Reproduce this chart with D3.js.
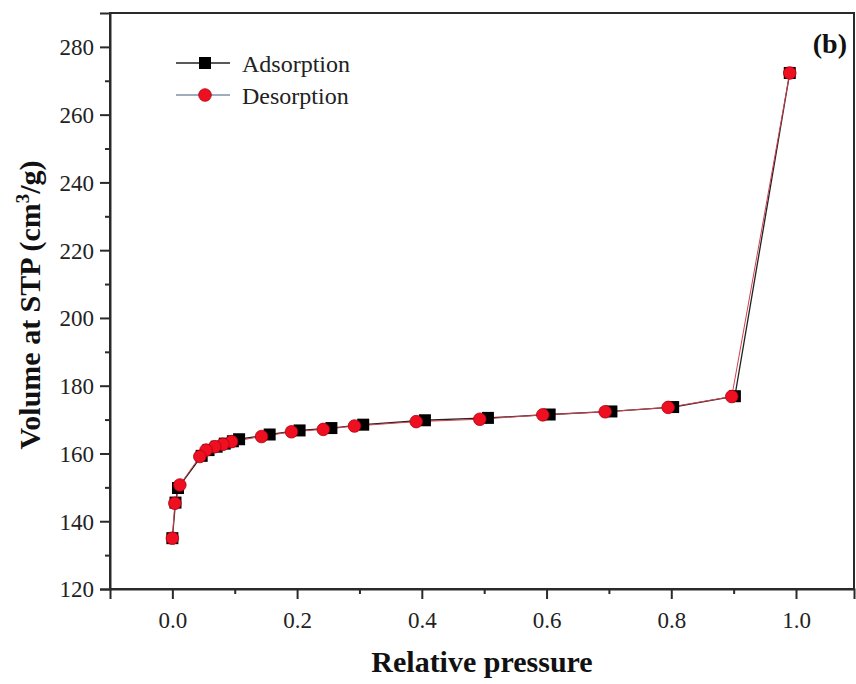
<!DOCTYPE html>
<html><head><meta charset="utf-8">
<script src="https://cdn.jsdelivr.net/npm/d3@7"></script>
<style>html,body{margin:0;padding:0;background:#fff;}svg{display:block;}svg text{font-family:'Liberation Serif','Times New Roman',serif;}</style>
</head><body><svg id="c" width="856" height="684"></svg>
<script>
const adsP = [0.000, 0.005, 0.009, 0.047, 0.058, 0.071, 0.084, 0.097, 0.107, 0.156, 0.204, 0.255, 0.306, 0.405, 0.506, 0.605, 0.704, 0.803, 0.902, 0.990];
const adsV = [135.0, 145.5, 149.8, 159.3, 161.0, 162.0, 162.9, 163.6, 164.2, 165.6, 166.8, 167.5, 168.5, 169.8, 170.5, 171.5, 172.4, 173.7, 176.9, 272.3];
const desP = [0.990, 0.897, 0.795, 0.694, 0.594, 0.493, 0.391, 0.292, 0.242, 0.191, 0.143, 0.095, 0.081, 0.068, 0.054, 0.044, 0.012, 0.004, 0.000];
const desV = [272.3, 176.8, 173.6, 172.3, 171.4, 170.1, 169.4, 168.1, 167.1, 166.4, 165.0, 163.5, 162.7, 162.0, 161.0, 159.1, 150.7, 145.3, 135.0];
const xMajor = [0.0, 0.2, 0.4, 0.6, 0.8, 1.0];
const xMinor = [0.1, 0.3, 0.5, 0.7, 0.9];
const yMajor = [120, 140, 160, 180, 200, 220, 240, 260, 280];
const yMinor = [130, 150, 170, 190, 210, 230, 250, 270];
const seriesNames = ["Adsorption", "Desorption"];

const svg = d3.select("#c");
const L = 110, R = 854, T = 13, B = 589;
const x = d3.scaleLinear().domain([-0.1, 1.093]).range([L, R]);
const y = d3.scaleLinear().domain([120, 290]).range([B, T]);
const serif = "'Liberation Serif','Times New Roman',serif";
const axisCol = "#2a2a2a";

// frame
svg.append("rect").attr("x", L).attr("y", T).attr("width", R - L).attr("height", B - T)
  .attr("fill", "none").attr("stroke", axisCol).attr("stroke-width", 2);

// x axis
const gx = svg.append("g").attr("transform", `translate(0,${B})`)
  .call(d3.axisBottom(x).tickValues(xMajor).tickFormat(d3.format(".1f")).tickSize(10).tickPadding(13));
svg.append("g").attr("transform", `translate(0,${B})`)
  .call(d3.axisBottom(x).tickValues(xMinor).tickFormat("").tickSize(5))
  .call(g => g.select(".domain").remove());
// y axis
const gy = svg.append("g").attr("transform", `translate(${L},0)`)
  .call(d3.axisLeft(y).tickValues(yMajor).tickFormat(d3.format("d")).tickSize(10).tickPadding(6));
svg.append("g").attr("transform", `translate(${L},0)`)
  .call(d3.axisLeft(y).tickValues(yMinor).tickFormat("").tickSize(5))
  .call(g => g.select(".domain").remove());
svg.selectAll("g").attr("font-family", null);
svg.selectAll(".domain").attr("stroke", axisCol).attr("stroke-width", 2);
svg.selectAll(".tick line").attr("stroke", axisCol).attr("stroke-width", 2);
svg.selectAll(".tick text").style("font-family", serif).attr("font-size", 23).attr("fill", "#222");
gy.selectAll(".tick text").attr("dy", "0.34em");

// titles
svg.append("text").attr("x", (x(-0.1) + x(1.093)) / 2).attr("y", 672)
  .attr("text-anchor", "middle").attr("font-weight", "bold")
  .attr("font-size", 30).attr("fill", "#111").text("Relative pressure");
const yt = svg.append("text").attr("transform", `translate(40,${(T + B) / 2 + 4}) rotate(-90)`)
  .attr("text-anchor", "middle").attr("font-weight", "bold")
  .attr("font-size", 30).attr("fill", "#111");
yt.append("tspan").text("Volume at STP (cm");
yt.append("tspan").attr("font-size", 19).attr("dy", -11).text("3");
yt.append("tspan").attr("dy", 11).text("/g)");

svg.append("text").attr("x", 847).attr("y", 53).attr("text-anchor", "end")
  .attr("font-weight", "bold").attr("font-size", 28).attr("fill", "#111").text("(b)");

// lines
const line = d3.line().x(d => x(d[0])).y(d => y(d[1]));
const ads = adsP.map((p, i) => [p, adsV[i]]);
const des = desP.map((p, i) => [p, desV[i]]);
svg.append("path").datum(ads).attr("d", line).attr("fill", "none").attr("stroke", "#222").attr("stroke-width", 1.3);
svg.append("path").datum(des).attr("d", line).attr("fill", "none").attr("stroke", "#d04050").attr("stroke-width", 1);

// markers
const sq = 12;
svg.append("g").selectAll("rect").data(ads).join("rect")
  .attr("x", d => x(d[0]) - sq / 2).attr("y", d => y(d[1]) - sq / 2)
  .attr("width", sq).attr("height", sq).attr("fill", "#000");
svg.append("g").selectAll("circle").data(des).join("circle")
  .attr("cx", d => x(d[0])).attr("cy", d => y(d[1])).attr("r", 6.3)
  .attr("fill", "#ee1020").attr("stroke", "#b00010").attr("stroke-width", 0.8);

// legend
const lg = svg.append("g");
const lx0 = 176, lx1 = 230, sx = 205;
[63, 95].forEach((ly, i) => {
  lg.append("line").attr("x1", lx0).attr("x2", lx1).attr("y1", ly).attr("y2", ly)
    .attr("stroke", i === 0 ? "#222" : "#8090a8").attr("stroke-width", 1.3);
  if (i === 0) lg.append("rect").attr("x", sx - 6).attr("y", ly - 6).attr("width", 12).attr("height", 12).attr("fill", "#000");
  else lg.append("circle").attr("cx", sx).attr("cy", ly).attr("r", 6.3).attr("fill", "#ee1020").attr("stroke", "#b00010").attr("stroke-width", 0.8);
  lg.append("text").attr("x", 242).attr("y", ly + 9).attr("font-size", 24)
    .attr("fill", "#222").text(seriesNames[i]);
});
</script></body></html>
